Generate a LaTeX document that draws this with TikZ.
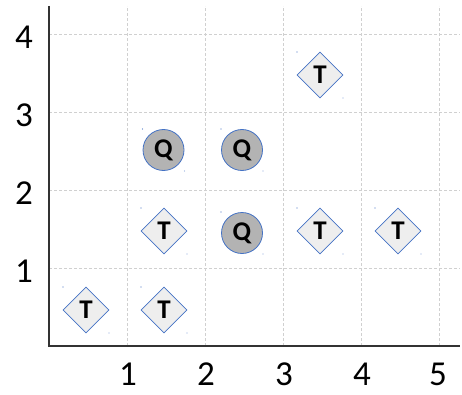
\documentclass[tikz,border=0pt]{standalone}
\usepackage{fontspec}
\setmainfont{Carlito}
\usetikzlibrary{shapes.geometric}
\definecolor{gridc}{HTML}{D0D0D0}
\definecolor{edgec}{HTML}{4472C4}
\definecolor{qfill}{HTML}{B3B3B3}
\definecolor{tfill}{HTML}{EEEEEE}
\definecolor{dotc}{HTML}{8FAADC}
\begin{document}
\begin{tikzpicture}[x=1pt,y=1pt,
  gridline/.style={draw=gridc,line width=0.7pt,dash pattern=on 3pt off 2pt},
  axisline/.style={draw=black!80,line width=1.2pt},
  ticklabel/.style={font=\fontsize{35}{35}\selectfont,inner sep=0pt},
  tnode/.style={diamond,draw=edgec,fill=tfill,line width=0.8pt,minimum width=46pt,minimum height=46pt,inner sep=0pt,font=\fontsize{27}{27}\selectfont\bfseries},
  qnode/.style={circle,draw=edgec,fill=qfill,line width=0.8pt,minimum size=41pt,inner sep=0pt,font=\fontsize{27}{27}\selectfont\bfseries}]
\useasboundingbox (0,0) rectangle (462,394);
% grid
\foreach \gx in {127,205,283,361,439} \draw[gridline] (\gx,48) -- (\gx,388);
\foreach \gy in {126,204,282,360} \draw[gridline] (49,\gy) -- (460,\gy);
% axes
\coordinate (o) at (49,48);
\coordinate (ytop) at (49,388);
\coordinate (xend) at (460,48);
\draw[axisline] (ytop) -- (o) -- (xend);
% tick labels
\node[ticklabel] (x1) at (128,20) {1};
\node[ticklabel] (x2) at (206,20) {2};
\node[ticklabel] (x3) at (284,20) {3};
\node[ticklabel] (x4) at (362,20) {4};
\node[ticklabel] (x5) at (438,20) {5};
\node[ticklabel] (y1) at (24,123) {1};
\node[ticklabel] (y2) at (24,201) {2};
\node[ticklabel] (y3) at (24,279) {3};
\node[ticklabel] (y4) at (24,357) {4};
% shapes
\node[tnode] (t1) at (86,84) {T};
\node[tnode] (t2) at (164,84) {T};
\node[tnode] (t3) at (164,163) {T};
\node[tnode] (t4) at (320,163) {T};
\node[tnode] (t5) at (398,163) {T};
\node[tnode] (t6) at (320,319) {T};
\node[qnode] (q1) at (163.5,244) {Q};
\node[qnode] (q2) at (242,244) {Q};
\node[qnode] (q3) at (242,161) {Q};
% corner dots
\foreach \n/\r in {t1/23,t2/23,t3/23,t4/23,t5/23,t6/23,q1/21,q2/21,q3/21} {
  \fill[edgec] ([shift={(-\r pt,\r pt)}]\n.center) circle (0.6pt);
  \fill[dotc] ([shift={(\r pt,-\r pt)}]\n.center) circle (0.7pt);
}
\end{tikzpicture}
\end{document}
